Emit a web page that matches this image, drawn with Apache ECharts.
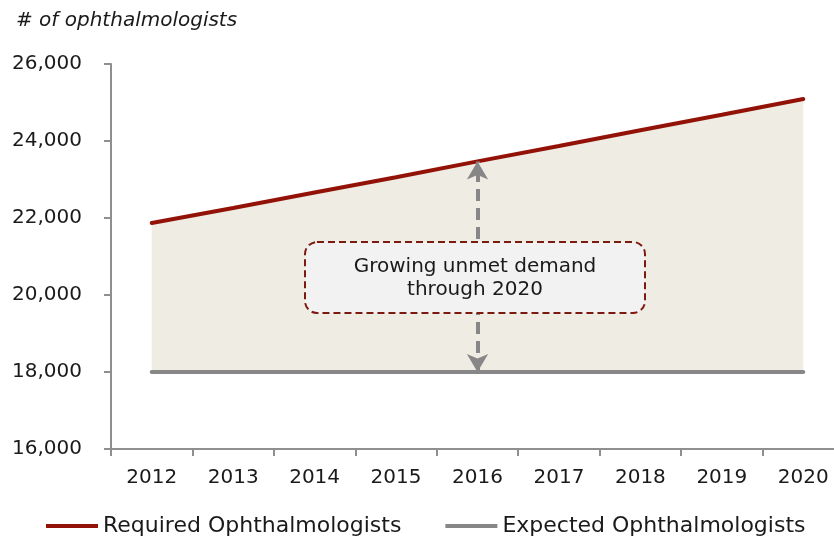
<!DOCTYPE html>
<html>
<head>
<meta charset="utf-8">
<script src="https://cdn.jsdelivr.net/npm/echarts@6/dist/echarts.min.js"></script>
<style>
  html, body { margin: 0; padding: 0; background: #fff; }
  #chart { width: 834px; height: 536px; }
</style>
</head>
<body>
<div id="chart"></div>
<script>
var years = ['2012', '2013', '2014', '2015', '2016', '2017', '2018', '2019', '2020'];
var required = [21870, 22260, 22660, 23060, 23470, 23870, 24280, 24680, 25090];
var expected = [18000, 18000, 18000, 18000, 18000, 18000, 18000, 18000, 18000];
var yTicks = [16000, 18000, 20000, 22000, 24000, 26000];

var gap = required.map(function(v, i) { return v - expected[i]; });

var font = 'DejaVu Sans';
var red = '#931207';
var grey = '#878787';

var chart = echarts.init(document.getElementById('chart'));

chart.setOption({
	animation: false,
	textStyle: { fontFamily: font },
	grid: { left: 111, top: 64, width: 733, height: 385, outerBoundsMode: 'none', containLabel: false },
	title: {
		text: '# of ophthalmologists',
		left: 11, top: 6,
		textStyle: { fontFamily: font, fontStyle: 'italic', fontWeight: 'normal', fontSize: 20, color: '#1a1a1a' }
	},
	legend: {
		left: 41, top: 510,
		itemWidth: 52, itemHeight: 4, itemGap: 44,
		textStyle: { fontFamily: font, fontSize: 22, color: '#1a1a1a' },
		data: [
			{ name: 'Required Ophthalmologists', icon: 'rect', itemStyle: { color: red } },
			{ name: 'Expected Ophthalmologists', icon: 'rect', itemStyle: { color: grey } }
		]
	},
	xAxis: {
		type: 'category',
		data: years,
		boundaryGap: true,
		axisLine: { lineStyle: { color: '#8f8f8f', width: 2 } },
		axisTick: { show: true, length: 7, lineStyle: { color: '#8f8f8f', width: 2 } },
		axisLabel: { margin: 19, fontSize: 20, color: '#1a1a1a', fontFamily: font }
	},
	yAxis: {
		type: 'value',
		min: yTicks[0], max: yTicks[yTicks.length - 1], interval: 2000,
		splitLine: { show: false },
		axisLine: { show: true, lineStyle: { color: '#8f8f8f', width: 2 } },
		axisTick: { show: true, length: 7, lineStyle: { color: '#8f8f8f', width: 2 } },
		axisLabel: {
			margin: 29, fontSize: 20, color: '#1a1a1a', fontFamily: font,
			formatter: function(v) { return v.toLocaleString('en-US'); }
		}
	},
	series: [
		{
			name: 'base', type: 'line', stack: 'band', data: expected,
			symbol: 'none', lineStyle: { opacity: 0 }, silent: true, z: 1
		},
		{
			name: 'gap', type: 'line', stack: 'band', data: gap,
			symbol: 'none', lineStyle: { opacity: 0 },
			areaStyle: { color: '#efece4', opacity: 1 }, silent: true, z: 1
		},
		{
			name: 'Required Ophthalmologists', type: 'line', data: required,
			symbol: 'none', lineStyle: { color: red, width: 4, cap: 'round' }, itemStyle: { color: red }, z: 3,
			markLine: {
				silent: true,
				symbol: ['arrow', 'arrow'],
				symbolSize: [16, 18],
				label: { show: false },
				lineStyle: { color: grey, width: 4, type: [12, 7] },
				data: [[
					{ coord: [years[4], expected[4]] },
					{ coord: [years[4], required[4]] }
				]]
			}
		},
		{
			name: 'Expected Ophthalmologists', type: 'line', data: expected,
			symbol: 'none', lineStyle: { color: grey, width: 4, cap: 'round' }, itemStyle: { color: grey }, z: 4
		}
	],
	graphic: [
		{
			type: 'rect', z: 100,
			shape: { x: 305, y: 242, width: 340, height: 71, r: 12 },
			style: { fill: '#f2f2f2', stroke: '#7d1a10', lineWidth: 2, lineDash: [7, 4] }
		},
		{
			type: 'text', z: 101,
			x: 475, y: 278,
			style: {
				text: 'Growing unmet demand\nthrough 2020',
				fill: '#1a1a1a', font: '20px "DejaVu Sans"',
				align: 'center', verticalAlign: 'middle', lineHeight: 23
			}
		}
	]
});
</script>
</body>
</html>
